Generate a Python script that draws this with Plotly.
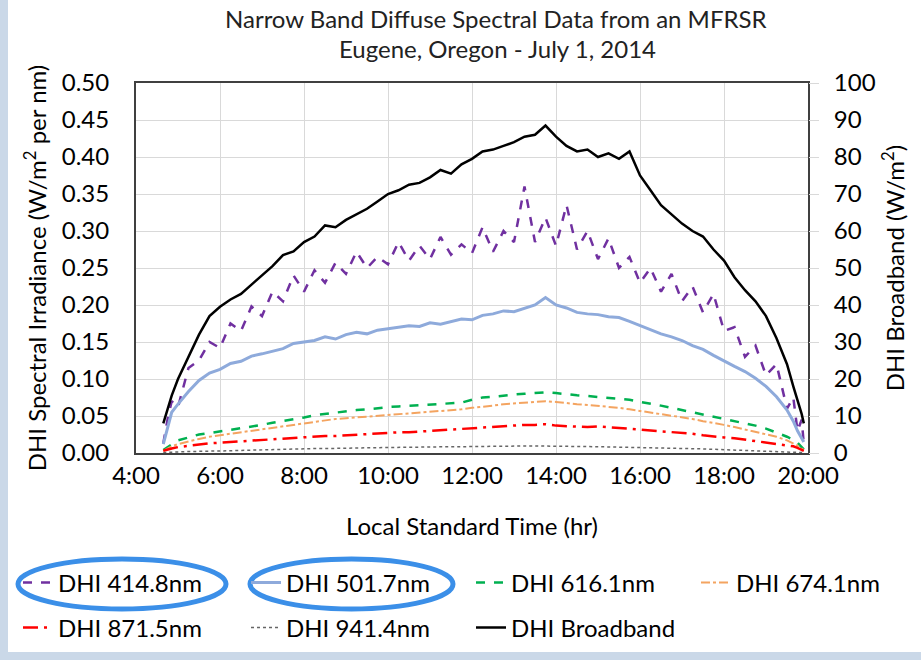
import plotly.graph_objects as go

# ---------------- data ----------------
time_hr = [4.65, 4.75, 4.85, 5.0, 5.25, 5.5, 5.75, 6.0, 6.25, 6.5, 6.75, 7.0, 7.25, 7.5, 7.75,
           8.0, 8.25, 8.5, 8.75, 9.0, 9.25, 9.5, 9.75, 10.0, 10.25, 10.5, 10.75, 11.0, 11.25,
           11.5, 11.75, 12.0, 12.25, 12.5, 12.75, 13.0, 13.25, 13.5, 13.75, 14.0, 14.25, 14.5,
           14.75, 15.0, 15.25, 15.5, 15.75, 16.0, 16.25, 16.5, 16.75, 17.0, 17.25, 17.5, 17.75,
           18.0, 18.25, 18.5, 18.75, 19.0, 19.25, 19.5, 19.65, 19.75, 19.85, 19.9]

dhi_414 = [0.013, 0.045, 0.070, 0.062, 0.115, 0.125, 0.150, 0.142, 0.175, 0.165, 0.198, 0.185,
           0.218, 0.205, 0.240, 0.218, 0.247, 0.230, 0.257, 0.242, 0.272, 0.250, 0.265, 0.255,
           0.285, 0.260, 0.280, 0.262, 0.292, 0.268, 0.282, 0.270, 0.305, 0.272, 0.300, 0.285,
           0.360, 0.285, 0.318, 0.280, 0.335, 0.275, 0.300, 0.262, 0.290, 0.250, 0.265, 0.230,
           0.250, 0.218, 0.242, 0.205, 0.225, 0.190, 0.215, 0.165, 0.170, 0.130, 0.145, 0.105,
           0.120, 0.060, 0.075, 0.030, 0.045, 0.012]

dhi_501 = [0.012, 0.035, 0.055, 0.066, 0.083, 0.098, 0.108, 0.113, 0.121, 0.124, 0.131, 0.134,
           0.138, 0.141, 0.148, 0.150, 0.152, 0.157, 0.154, 0.160, 0.163, 0.161, 0.166, 0.168,
           0.170, 0.172, 0.171, 0.176, 0.174, 0.178, 0.181, 0.180, 0.186, 0.188, 0.192, 0.191,
           0.196, 0.200, 0.210, 0.200, 0.196, 0.190, 0.188, 0.187, 0.184, 0.183, 0.178, 0.172,
           0.166, 0.161, 0.157, 0.152, 0.145, 0.140, 0.132, 0.124, 0.117, 0.110, 0.101, 0.090,
           0.076, 0.058, 0.043, 0.030, 0.020, 0.015]

dhi_616 = [0.004, 0.008, 0.012, 0.017, 0.021, 0.025, 0.027, 0.029, 0.031, 0.033, 0.036, 0.038,
           0.041, 0.043, 0.046, 0.048, 0.051, 0.053, 0.054, 0.056, 0.058, 0.059, 0.061, 0.062,
           0.063, 0.064, 0.065, 0.066, 0.067, 0.068, 0.068, 0.072, 0.075, 0.076, 0.078, 0.079,
           0.080, 0.081, 0.082, 0.081, 0.079, 0.078, 0.077, 0.076, 0.075, 0.074, 0.072, 0.069,
           0.067, 0.064, 0.061, 0.058, 0.056, 0.052, 0.050, 0.047, 0.044, 0.041, 0.037, 0.033,
           0.028, 0.022, 0.018, 0.014, 0.008, 0.005]

dhi_674 = [0.003, 0.006, 0.009, 0.012, 0.016, 0.019, 0.022, 0.024, 0.027, 0.029, 0.031, 0.033,
           0.034, 0.036, 0.038, 0.040, 0.042, 0.044, 0.046, 0.047, 0.048, 0.049, 0.050, 0.051,
           0.052, 0.053, 0.054, 0.055, 0.056, 0.058, 0.059, 0.061, 0.062, 0.064, 0.066, 0.067,
           0.068, 0.069, 0.070, 0.069, 0.067, 0.066, 0.065, 0.064, 0.063, 0.061, 0.059, 0.057,
           0.054, 0.052, 0.050, 0.048, 0.046, 0.043, 0.041, 0.038, 0.035, 0.032, 0.029, 0.026,
           0.022, 0.017, 0.013, 0.010, 0.006, 0.004]

dhi_871 = [0.003, 0.005, 0.006, 0.008, 0.010, 0.011, 0.013, 0.014, 0.015, 0.016, 0.017, 0.018,
           0.019, 0.020, 0.021, 0.021, 0.022, 0.023, 0.023, 0.024, 0.025, 0.025, 0.026, 0.027,
           0.028, 0.028, 0.029, 0.030, 0.031, 0.032, 0.033, 0.034, 0.035, 0.035, 0.036, 0.037,
           0.038, 0.038, 0.039, 0.037, 0.036, 0.035, 0.035, 0.036, 0.035, 0.034, 0.033, 0.031,
           0.030, 0.029, 0.028, 0.027, 0.026, 0.024, 0.022, 0.021, 0.020, 0.018, 0.017, 0.015,
           0.013, 0.011, 0.009, 0.007, 0.004, 0.003]

dhi_941 = [0.0005, 0.001, 0.001, 0.0015, 0.002, 0.002, 0.0025, 0.003, 0.003, 0.0035, 0.004, 0.004,
           0.0045, 0.005, 0.005, 0.0055, 0.006, 0.006, 0.0065, 0.0065, 0.007, 0.007, 0.0072, 0.0075,
           0.0075, 0.0078, 0.008, 0.008, 0.0082, 0.0085, 0.0085, 0.0088, 0.009, 0.009, 0.0092, 0.0095,
           0.0095, 0.0095, 0.0095, 0.0092, 0.009, 0.009, 0.0088, 0.0085, 0.0082, 0.008, 0.0078, 0.0075,
           0.007, 0.0068, 0.0065, 0.006, 0.0058, 0.0055, 0.005, 0.0045, 0.004, 0.0035, 0.003, 0.0025,
           0.002, 0.0015, 0.001, 0.001, 0.0005, 0.0005]

dhi_broadband = [8, 12, 15.5, 20, 26, 32, 37, 39.5, 41.5, 43, 45.5, 48, 50.5, 53.5, 54.5,
                 57, 58.5, 61.5, 61, 63, 64.5, 66, 68, 70, 71, 72.5, 73, 74.5, 76.5,
                 75.5, 78, 79.5, 81.5, 82, 83, 84, 85.5, 86, 88.5, 85.5, 83, 81.5,
                 82, 80, 81, 79.5, 81.5, 75, 71, 67, 64.5, 62, 60, 58.5, 55,
                 52, 47.5, 44, 41, 37, 31, 24, 18, 14.5, 10.5, 8]

x_tickvals = [4, 6, 8, 10, 12, 14, 16, 18, 20]
x_ticktext = ["4:00", "6:00", "8:00", "10:00", "12:00", "14:00", "16:00", "18:00", "20:00"]

# ---------------- layout geometry ----------------
W, H = 921, 660
PL, PR, PT, PB = 136, 808, 83, 453   # plot area in px
FONT = "Lato, 'Open Sans', sans-serif"
FS = 24


def px_x(px):
    return (px - PL) / (PR - PL)


def px_y(py):
    return (PB - py) / (PB - PT)


fig = go.Figure()

# (name, values, colour, dash, width, axis, legend column x px, legend row y px)
series = [
    ("DHI 414.8nm", dhi_414, "#7030a0", "dash", 2.5, "y", 18, 583),
    ("DHI 501.7nm", dhi_501, "#8eaadb", "solid", 3, "y", 246, 583),
    ("DHI 616.1nm", dhi_616, "#00b050", "dash", 2.5, "y", 471, 583),
    ("DHI 674.1nm", dhi_674, "#f4a460", "dashdot", 2, "y", 696, 583),
    ("DHI 871.5nm", dhi_871, "#ff0000", "longdashdot", 2.5, "y", 18, 628),
    ("DHI 941.4nm", dhi_941, "#666666", "dot", 1.5, "y", 246, 628),
    ("DHI Broadband", dhi_broadband, "black", "solid", 2.5, "y2", 471, 628),
]

legend_layouts = {}
for i, (name, vals, col, dash, w, ax, lx, ly) in enumerate(series):
    lid = "legend" if i == 0 else f"legend{i + 1}"
    fig.add_trace(go.Scatter(x=time_hr, y=vals, name=name, mode="lines",
                             line=dict(color=col, dash=dash, width=w), yaxis=ax, legend=lid))
    legend_layouts[lid] = dict(x=lx / W, y=1 - ly / H, xref="container", yref="container",
                               xanchor="left", yanchor="middle", orientation="h",
                               font=dict(family=FONT, size=FS, color="black"),
                               bgcolor="rgba(0,0,0,0)", borderwidth=0)

fig.update_layout(
    width=W, height=H,
    margin=dict(l=PL, r=W - PR, t=PT, b=H - PB),
    paper_bgcolor="white", plot_bgcolor="white",
    font=dict(family=FONT, size=FS, color="black"),
    showlegend=True,
    xaxis=dict(range=[4, 20], tickvals=x_tickvals, ticktext=x_ticktext,
               showgrid=True, gridcolor="#d9d9d9", gridwidth=1,
               showline=True, linecolor="#404040", linewidth=2, mirror=True,
               ticks="", tickfont=dict(size=FS), ticklabelstandoff=0,
               title=dict(text="Local Standard Time (hr)", font=dict(size=FS), standoff=30),
               zeroline=False),
    yaxis=dict(range=[0, 0.5], dtick=0.05, tickformat=".2f",
               showgrid=True, gridcolor="#d9d9d9", gridwidth=1,
               showline=True, linecolor="#404040", linewidth=2, mirror=True,
               ticks="", tickfont=dict(size=FS), zeroline=False, ticklabelstandoff=20,
               title=dict(text="DHI Spectral Irradiance (W/m<sup>2</sup> per nm)",
                          font=dict(size=FS), standoff=8)),
    yaxis2=dict(range=[0, 100], dtick=10, overlaying="y", side="right",
                showgrid=False, showline=False, zeroline=False,
                ticks="outside", ticklen=10, tickcolor="#d9d9d9", tickfont=dict(size=FS),
                ticklabelstandoff=10,
                title=dict(text="DHI Broadband (W/m<sup>2</sup>)", font=dict(size=FS), standoff=12)),
    **legend_layouts,
)

# Title (two lines)
fig.add_annotation(text="Narrow Band Diffuse Spectral Data from an MFRSR", xref="paper", yref="paper",
                   x=px_x(496), y=px_y(18), xanchor="center", yanchor="middle", showarrow=False,
                   font=dict(family=FONT, size=FS, color="#222222"))
fig.add_annotation(text="Eugene, Oregon - July 1, 2014", xref="paper", yref="paper",
                   x=px_x(497), y=px_y(48), xanchor="center", yanchor="middle", showarrow=False,
                   font=dict(family=FONT, size=FS, color="#222222"))

# slide frame strips
frame_col = "#cad8e8"
fig.add_shape(type="rect", xref="paper", yref="paper", x0=px_x(0), x1=px_x(8), y0=px_y(H), y1=px_y(0),
              fillcolor=frame_col, line=dict(width=0), layer="above")
fig.add_shape(type="rect", xref="paper", yref="paper", x0=px_x(0), x1=px_x(W), y0=px_y(H), y1=px_y(652),
              fillcolor=frame_col, line=dict(width=0), layer="above")

# highlight ellipses around legend entries
ell_col = "#3b8fe8"
fig.add_shape(type="circle", xref="paper", yref="paper", x0=px_x(18), x1=px_x(226),
              y0=px_y(609), y1=px_y(559), line=dict(color=ell_col, width=5), layer="above")
fig.add_shape(type="circle", xref="paper", yref="paper", x0=px_x(250), x1=px_x(453),
              y0=px_y(609), y1=px_y(559), line=dict(color=ell_col, width=5), layer="above")

fig.write_html("out.html")
